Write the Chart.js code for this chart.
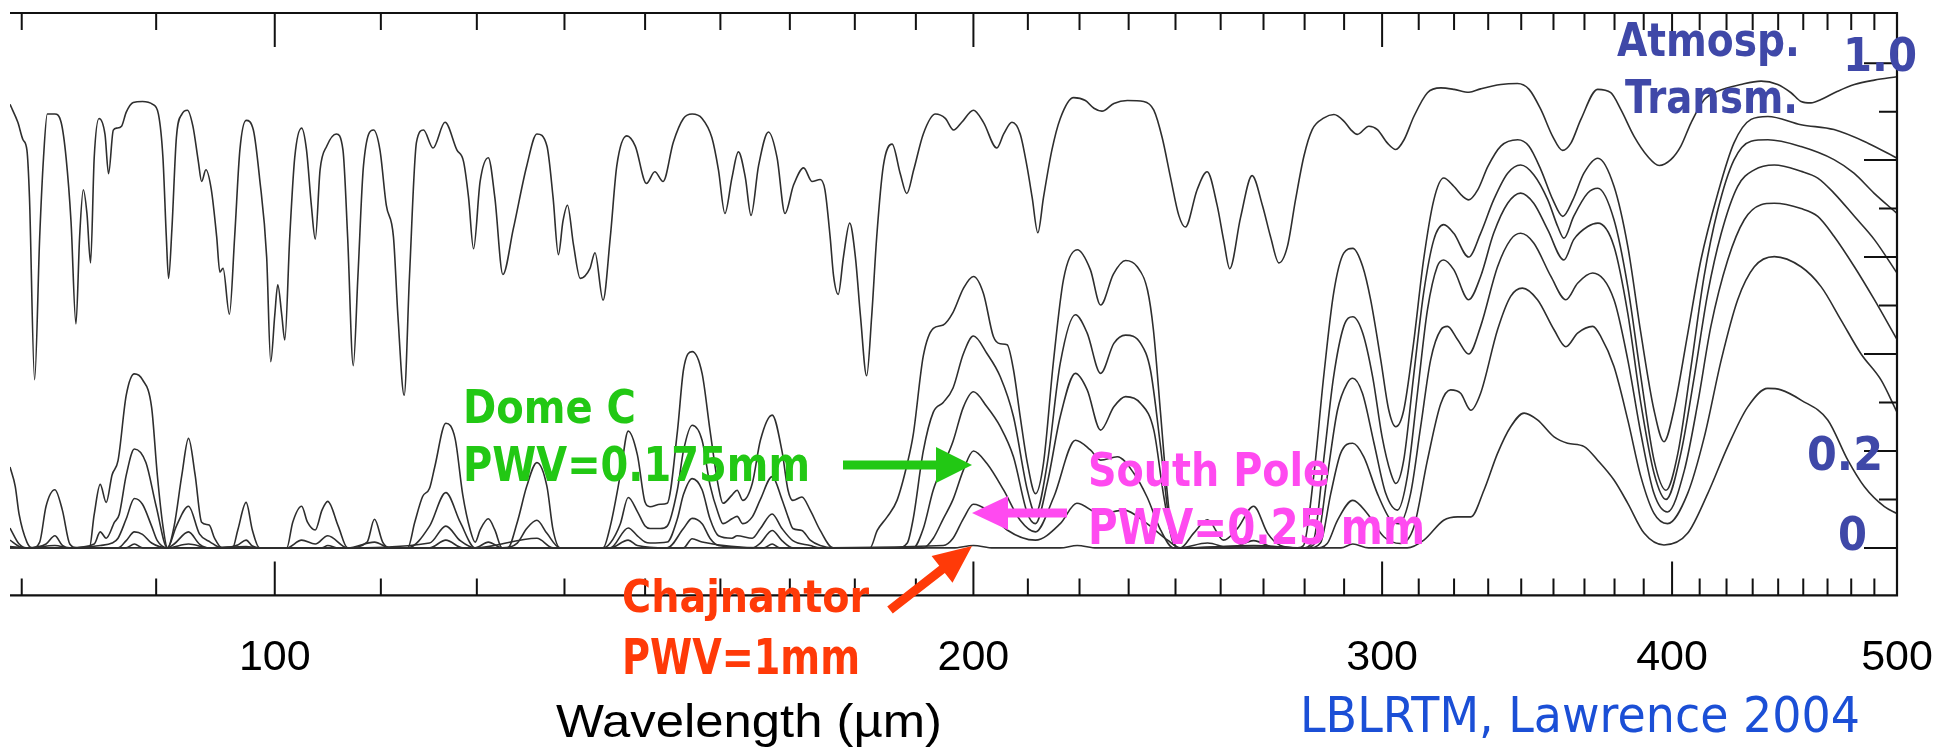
<!DOCTYPE html>
<html><head><meta charset="utf-8">
<script src="https://cdn.jsdelivr.net/npm/chart.js@4.4.1/dist/chart.umd.min.js"></script>
<style>html,body{margin:0;padding:0;background:#fff;overflow:hidden}</style>
</head><body>
<canvas id="c" width="1937" height="755"></canvas>
<script>
// ---------- DATA (wavelength in micron, transmission 0..1) ----------
const wlA = [76.9,77.5,77.9,78.2,78.4,78.8,79.2,79.5,79.8,80.4,80.9,81.3,81.7,82.1,82.4,82.7,83.0,83.3,83.6,84.0,84.5,84.8,85.2,85.5,85.9,86.3,86.9,87.7,88.6,89.1,89.5,89.8,90.0,90.3,90.7,91.2,91.7,92.2,92.7,93.0,93.4,93.9,94.4,94.7,95.0,95.6,96.1,96.6,97.2,97.9,98.5,99.2,99.6,100.0,100.3,100.7,101.0,101.5,102.0,102.7,103.2,103.7,104.1,104.6,105.3,106.3,107.0,107.5,108.1,108.6,109.2,110.3,111.0,111.7,112.5,113.0,113.7,114.3,115.1,115.9,117.0,118.4,119.8,120.6,121.2,121.8,122.6,123.6,124.4,125.4,126.7,128.4,129.7,131.0,131.8,132.5,133.1,133.7,134.5,135.4,136.7,137.4,138.5,139.5,140.4,141.8,143.0,144.6,145.8,147.0,148.5,150.0,151.3,152.8,154.3,155.3,156.3,157.4,158.4,159.5,160.4,161.6,163.2,164.6,165.9,167.3,169.0,170.4,171.8,172.6,173.5,174.1,174.9,175.8,176.9,177.9,178.8,179.9,180.8,181.7,182.9,184.5,186.0,187.2,188.5,190.3,192.6,194.5,196.1,197.7,200.0,202.0,204.7,206.1,207.8,209.5,210.9,212.0,213.2,214.4,216.2,218.0,220.9,223.5,225.4,227.2,229.9,233.0,236.8,239.2,241.2,243.2,245.2,246.8,249.7,252.2,254.7,256.4,257.9,260.7,263.7,266.4,268.6,270.8,273.1,275.3,277.6,279.9,283.2,286.0,288.9,290.8,292.7,296.1,298.6,301.6,304.1,306.6,309.6,313.8,318.0,322.2,327.0,330.8,337.5,343.1,347.1,351.2,355.3,358.8,361.8,365.4,371.5,376.4,380.2,385.2,390.4,394.9,399.5,403.5,407.6,413.0,418.5,428.3,436.9,444.2,450.1,454.6,459.1,463.7,471.4,479.3,488.9,500];
const trA = [.915,.878,.842,.821,.723,.347,.642,.805,.895,.895,.878,.805,.673,.462,.642,.739,.69,.588,.805,.886,.853,.772,.862,.866,.87,.899,.919,.921,.915,.895,.805,.642,.556,.658,.846,.895,.903,.87,.797,.756,.78,.739,.642,.569,.577,.482,.642,.821,.882,.862,.764,.6,.384,.48,.543,.48,.429,.642,.805,.866,.821,.706,.637,.78,.829,.854,.821,.641,.376,.56,.788,.862,.821,.707,.641,.478,.315,.56,.837,.862,.825,.878,.821,.797,.723,.617,.756,.805,.723,.564,.658,.788,.854,.829,.723,.605,.674,.707,.625,.556,.576,.609,.511,.641,.788,.85,.829,.752,.776,.756,.837,.886,.895,.886,.846,.78,.69,.764,.817,.764,.686,.788,.858,.805,.69,.748,.784,.756,.76,.739,.641,.56,.523,.6,.67,.6,.478,.355,.478,.641,.788,.833,.772,.731,.78,.854,.895,.886,.862,.878,.903,.878,.825,.854,.878,.854,.788,.723,.65,.723,.821,.886,.929,.923,.907,.901,.917,.923,.921,.903,.846,.764,.686,.662,.739,.776,.707,.633,.576,.682,.768,.707,.641,.588,.622,.718,.808,.863,.887,.894,.88,.863,.853,.87,.863,.835,.822,.842,.89,.939,.949,.946,.94,.947,.956,.958,.946,.904,.849,.82,.835,.884,.946,.939,.904,.849,.808,.789,.801,.829,.877,.925,.942,.956,.963,.956,.939,.921,.918,.925,.942,.956,.965,.972];

const wlB = [76.9,77.3,77.6,78.2,78.6,79.2,79.7,80.4,81.0,81.6,82.2,83.2,83.6,84.1,84.6,85.1,85.6,86.3,87.0,87.7,88.5,89.0,89.5,89.9,90.5,91.2,91.8,92.4,93.0,93.7,94.2,94.9,95.9,96.4,97.2,97.8,98.5,101.2,101.8,102.7,103.3,104.1,104.8,105.4,106.5,107.5,109.6,110.4,111.3,112.1,114.1,114.9,115.8,116.6,117.2,118.5,119.6,120.5,121.4,122.0,122.6,123.6,124.4,125.3,126.0,127.2,128.4,129.7,131.0,131.8,132.7,138.5,139.5,140.9,142.0,143.3,144.4,145.1,146.6,147.6,149.1,150.0,151.3,152.8,154.0,155.3,156.0,157.4,158.2,159.1,160.6,161.9,163.8,165.4,166.4,167.2,168.7,170.1,171.8,174.0,180.5,181.8,183.6,185.4,187.3,188.4,190.3,192.2,194.1,196.0,198.0,200.0,202.0,204.0,205.4,206.8,208.1,209.5,211.0,212.7,214.4,216.5,218.7,221.7,224.6,226.9,229.8,232.6,235.3,237.7,239.1,240.8,242.5,243.9,245.6,248.8,252.3,256.3,259.9,264.1,267.8,271.2,275.9,277.5,280.3,283.1,285.9,288.8,291.4,294.3,296.6,299.6,302.0,304.1,306.5,309.5,312.6,315.8,318.9,322.1,325.0,326.9,329.9,333.2,337.5,343.2,347.0,351.2,355.4,358.9,362.5,366.5,371.6,377.6,382.8,387.8,392.9,396.8,400.7,406.3,411.6,418.6,425.3,432.6,439.9,454.6,469.7,485.8,500];
const trB = [.167,.127,.069,.012,0,.012,.086,.12,.078,.008,0,0,.069,.131,.094,.151,.18,.315,.359,.347,.29,.151,.045,0,.045,.151,.226,.151,.053,.047,.02,0,0,.037,.094,.037,0,0,.053,.086,.053,.037,.078,.096,.045,0,.012,.059,.012,0,0,.053,.106,.123,.167,.257,.225,.11,.037,.012,.037,.06,.037,0,0,.053,.127,.176,.127,.037,0,0,.045,.151,.241,.192,.094,.085,.09,.092,.24,.367,.405,.36,.243,.126,.092,.109,.119,.098,.133,.222,.274,.2,.119,.098,.105,.078,.036,0,0,.036,.064,.098,.174,.233,.396,.453,.46,.486,.535,.56,.525,.436,.421,.419,.368,.271,.175,.112,.175,.382,.554,.615,.574,.501,.565,.593,.58,.532,.45,.278,.105,.009,0,.03,.058,.016,.04,.086,.03,.005,0,.005,.147,.353,.525,.608,.618,.58,.512,.388,.284,.25,.284,.422,.594,.718,.763,.746,.725,.718,.739,.787,.829,.842,.829,.78,.718,.684,.718,.773,.804,.746,.622,.443,.284,.219,.284,.443,.594,.732,.835,.884,.89,.873,.863,.835,.804];

const wlC = [76.9,77.6,78.2,79.7,80.4,81.0,81.6,83.6,84.1,84.6,85.3,85.7,86.3,87.0,88.0,88.9,89.9,90.7,91.8,92.8,93.8,94.9,96.4,97.2,97.8,98.5,101.2,102.7,104.1,105.4,107.5,110.4,112.1,114.1,116.6,118.5,120.2,122.0,123.6,125.3,127.2,128.4,129.7,131.0,132.7,138.5,139.5,140.9,142.0,143.3,144.4,145.1,146.6,147.6,149.1,150.0,151.3,152.8,154.0,155.3,156.0,157.4,158.2,159.1,160.6,161.9,163.8,165.4,166.4,167.2,168.7,170.1,171.8,174.0,185.4,187.3,188.4,190.3,192.2,194.1,196.0,198.0,200.0,202.7,205.4,208.1,211.0,212.7,215.2,218.0,221.3,223.9,226.9,229.9,232.6,236.1,238.4,240.8,243.2,245.2,252.3,258.0,264.1,270.0,277.0,280.3,283.1,285.9,288.8,291.4,294.3,297.2,300.0,302.6,304.1,306.5,309.5,312.6,315.8,318.9,322.1,326.9,330.8,335.1,339.8,344.2,348.7,353.6,357.1,359.3,362.8,367.9,371.6,377.6,382.8,387.8,392.9,397.6,402.3,407.6,412.9,418.6,425.3,432.6,439.9,454.6,469.7,479.1,488.7,500];
const trC = [.041,.008,0,.008,.025,.005,0,.008,.033,.02,.053,.069,.15,.204,.176,.086,0,.045,.086,.029,.012,0,.006,.016,.004,0,0,.016,.008,.025,0,.012,0,0,.045,.114,.053,0,.012,0,.01,.04,.057,.03,0,0,.01,.05,.104,.075,.045,.04,.04,.045,.12,.2,.253,.222,.13,.07,.05,.06,.065,.05,.064,.1,.147,.1,.064,.04,.036,.016,.005,0,0,.01,.06,.2,.28,.3,.33,.4,.437,.401,.353,.271,.119,.071,.174,.381,.481,.443,.36,.422,.439,.422,.367,.209,.036,0,.01,0,.015,0,0,.016,.181,.353,.457,.477,.443,.353,.229,.154,.133,.181,.353,.525,.636,.667,.649,.6,.649,.718,.773,.79,.77,.718,.663,.639,.684,.732,.742,.677,.539,.353,.181,.119,.195,.374,.56,.698,.8,.839,.842,.828,.801,.773,.732,.69];

const wlD = [76.9,77.6,78.2,80.4,81.6,84.1,85.1,85.6,86.3,87.0,87.7,88.5,89.0,89.9,90.5,91.8,92.8,93.7,97.2,98.5,104.8,105.4,106.5,116.6,118.5,120.2,122.0,129.7,131.8,139.5,142.0,143.3,144.4,145.1,147.6,149.1,150.0,151.3,152.8,154.0,155.3,157.4,158.2,160.6,161.9,163.8,165.4,167.2,170.1,171.8,188.4,190.3,192.2,194.1,196.0,198.0,200.0,202.7,205.4,208.1,211.0,212.7,215.2,218.0,221.3,223.9,226.9,229.9,232.6,236.1,239.2,241.6,243.9,245.6,264.1,277.5,281.3,284.1,287.0,289.8,291.4,294.2,297.6,301.1,304.6,307.6,310.7,313.8,316.9,318.9,322.1,326.9,330.8,335.1,339.8,344.2,348.7,353.6,359.3,362.8,367.9,371.6,377.6,382.8,387.8,392.9,397.6,403.5,408.9,414.4,420.0,426.9,434.0,442.7,454.6,462.2,469.7,479.3,488.9,500];
const trD = [.016,.003,0,.005,0,.005,.01,.02,.06,.102,.09,.045,.015,0,.008,.033,.008,0,.003,0,0,.005,0,.01,.045,.015,0,.02,0,0,.041,.025,.012,.01,.012,.06,.11,.143,.12,.06,.025,.02,.025,.02,.04,.07,.04,.015,.005,0,0,.04,.12,.17,.22,.29,.322,.291,.25,.188,.071,.05,.133,.271,.36,.326,.243,.291,.312,.298,.243,.105,.009,0,.005,0,.016,.147,.284,.34,.35,.319,.216,.112,.078,.147,.319,.491,.581,.594,.574,.512,.56,.649,.711,.732,.711,.656,.594,.636,.663,.67,.622,.484,.298,.154,.1,.195,.353,.525,.649,.746,.78,.79,.777,.763,.732,.684,.636,.567];

const wlE = [76.9,78.2,85.6,86.3,87.0,87.7,88.5,89.9,91.8,93.7,116.6,118.5,120.5,139.5,142.0,143.3,147.6,150.0,151.3,152.8,154.0,155.3,160.6,161.9,163.8,165.4,167.2,190.3,192.2,194.1,196.0,198.0,200.0,202.7,206.1,209.5,212.7,216.6,221.3,224.6,226.9,230.7,234.5,237.6,240.8,243.9,264.1,279.0,282.2,285.1,287.9,291.4,294.6,298.6,302.6,305.1,308.6,311.7,314.8,318.0,320.1,323.3,326.9,330.8,336.4,340.8,344.2,348.7,354.7,360.0,364.2,369.7,377.6,382.8,387.8,392.9,398.2,404.9,410.3,415.7,422.7,429.7,436.9,442.7,454.6,462.2,469.7,479.3,488.9,500];
const trE = [.003,0,0,.015,.033,.028,.01,0,.008,0,0,.016,0,0,.016,.005,0,.04,.061,.05,.02,.005,0,.01,.036,.015,0,0,.02,.06,.1,.16,.2,.174,.119,.057,.033,.105,.222,.202,.181,.188,.154,.105,.037,0,.004,0,.01,.112,.195,.216,.188,.112,.057,.05,.112,.25,.388,.45,.457,.43,.4,.457,.58,.636,.649,.629,.56,.512,.546,.567,.512,.388,.236,.112,.074,.16,.298,.457,.594,.677,.708,.711,.7,.684,.643,.58,.512,.43];

const wlF = [76.9,86.3,87.0,87.7,150.0,151.3,152.8,162.5,163.8,165.0,194.1,196.0,198.0,200.0,202.7,206.8,212.7,218.0,221.6,226.9,232.2,237.6,242.5,245.6,281.0,284.1,287.0,291.4,295.6,300.5,305.5,309.6,313.8,318.0,321.1,324.3,327.6,330.8,336.4,340.8,344.8,350.0,355.8,360.0,364.2,369.7,372.7,377.6,382.8,387.8,392.9,398.2,406.2,413.0,420.0,426.9,434.0,442.7,454.6,463.7,473.0,482.5,492.2,500];
const trF = [0,0,.008,0,0,.019,.012,0,.008,0,.005,.02,.06,.09,.078,.037,.016,.05,.092,.07,.078,.05,.016,0,0,.009,.057,.098,.071,.023,.009,.043,.181,.298,.326,.319,.284,.319,.45,.519,.536,.512,.45,.415,.443,.457,.436,.374,.264,.147,.071,.05,.112,.229,.388,.512,.58,.601,.58,.539,.47,.4,.346,.28];

const wlG = [76.9,196.0,200.0,204.0,218.0,221.7,226.0,288.0,291.4,296.0,307.6,312.7,318.9,323.3,327.6,331.9,336.4,340.8,345.4,350.0,355.8,360.6,366.6,371.5,377.6,382.8,389.1,396.8,406.2,414.4,422.7,431.2,439.8,445.6,454.6,466.8,476.2,484.1,493.8,500];
const trG = [0,0,.005,0,0,.005,0,0,.008,0,0,.016,.057,.064,.064,.119,.195,.25,.278,.264,.229,.216,.209,.181,.14,.092,.03,.006,.03,.112,.209,.291,.329,.326,.305,.264,.181,.126,.085,.071];

const seriesNames = ['Atmosp. Transm. (top)','Curve 2','Curve 3','Curve 4 (Dome C)','Curve 5 (South Pole)','Curve 6','Chajnantor'];

// tick values
const xMajorTicks = [100,200,300,400,500];
const xMinorTicks = [77.8,88.9,111.1,122.2,133.3,144.4,155.6,166.7,177.8,188.9,211.1,222.2,233.3,244.4,255.6,266.7,277.8,288.9,311.1,322.2,333.3,344.4,355.6,366.7,377.8,388.9,411.1,422.2,433.3,444.4,455.6,466.7,477.8,488.9];
const yTickValues = [0,0.1,0.2,0.3,0.4,0.5,0.6,0.7,0.8,0.9,1.0];
const yMajorTicks = [0,0.2,0.4,0.6,0.8,1.0];

// ---------- CHART ----------
const allX = xMinorTicks.concat(xMajorTicks).sort((a,b)=>a-b);
const pairs = [[wlA,trA],[wlB,trB],[wlC,trC],[wlD,trD],[wlE,trE],[wlF,trF],[wlG,trG]];
const datasets = pairs.map(([w,t],i)=>({
  label: seriesNames[i],
  data: w.map((x,j)=>({x:x, y:t[j]})),
  borderColor:'#2e2e2e', borderWidth:1.6, pointRadius:0, fill:false,
  cubicInterpolationMode:'monotone'
}));

function fitText(ctx, txt, left, baseline, width, size, weight, family, color){
  ctx.save();
  ctx.font = weight + ' ' + size + 'px ' + family;
  const w = ctx.measureText(txt).width;
  ctx.translate(left, baseline);
  ctx.scale(width / w, 1);
  ctx.fillStyle = color; ctx.textBaseline = 'alphabetic'; ctx.textAlign = 'left';
  ctx.fillText(txt, 0, 0);
  ctx.restore();
}
function arrow(ctx, x1, y1, x2, y2, shaft, headLen, headHalf, color){
  const dx = x2-x1, dy = y2-y1, L = Math.hypot(dx,dy);
  const ux = dx/L, uy = dy/L, px = -uy, py = ux;
  const bx = x2 - ux*headLen, by = y2 - uy*headLen;
  ctx.save(); ctx.fillStyle = color; ctx.beginPath();
  ctx.moveTo(x1 + px*shaft/2, y1 + py*shaft/2);
  ctx.lineTo(bx + px*shaft/2, by + py*shaft/2);
  ctx.lineTo(bx + px*headHalf, by + py*headHalf);
  ctx.lineTo(x2, y2);
  ctx.lineTo(bx - px*headHalf, by - py*headHalf);
  ctx.lineTo(bx - px*shaft/2, by - py*shaft/2);
  ctx.lineTo(x1 - px*shaft/2, y1 - py*shaft/2);
  ctx.closePath(); ctx.fill(); ctx.restore();
}

const COMIC = '"DejaVu Sans", "Noto Sans", sans-serif';
const framePlugin = {
  id:'frame',
  afterDraw(chart){
    const ctx = chart.ctx, a = chart.chartArea;
    const xs = chart.scales.x, ys = chart.scales.y;
    ctx.save();
    ctx.strokeStyle = '#111'; ctx.lineWidth = 2.2; ctx.lineCap = 'butt';
    ctx.beginPath();
    ctx.moveTo(a.left, a.top); ctx.lineTo(a.right, a.top); ctx.lineTo(a.right, a.bottom); ctx.lineTo(a.left, a.bottom);
    ctx.stroke();
    ctx.lineWidth = 2;
    ctx.beginPath();
    allX.forEach(v=>{
      const x = xs.getPixelForValue(v);
      const len = xMajorTicks.includes(v) ? 34 : 17;
      ctx.moveTo(x, a.top); ctx.lineTo(x, a.top + len);
      ctx.moveTo(x, a.bottom); ctx.lineTo(x, a.bottom - len);
    });
    yTickValues.forEach(v=>{
      const y = ys.getPixelForValue(v);
      const len = yMajorTicks.some(m=>Math.abs(m-v)<1e-9) ? 33 : 18;
      ctx.moveTo(a.right, y); ctx.lineTo(a.right - len, y);
    });
    ctx.stroke();
    ctx.restore();

    const BLUE = '#3f48a8', GREEN = '#22c814', MAG = '#ff4af0', RED = '#ff3a08';
    fitText(ctx,'Atmosp.',1617,56,183,46,'bold',COMIC,BLUE);
    fitText(ctx,'Transm.',1625,113,173,47,'bold',COMIC,BLUE);
    fitText(ctx,'1.0',1843,71,74,46,'bold',COMIC,BLUE);
    fitText(ctx,'0.2',1807,470,76,47,'bold',COMIC,BLUE);
    fitText(ctx,'0',1838,550,29,47,'bold',COMIC,BLUE);
    fitText(ctx,'Dome C',463,423,173,47,'bold',COMIC,GREEN);
    fitText(ctx,'PWV=0.175mm',463,481,347,48,'bold',COMIC,GREEN);
    fitText(ctx,'South Pole',1088,486,242,47,'bold',COMIC,MAG);
    fitText(ctx,'PWV=0.25 mm',1088,544,337,50,'bold',COMIC,MAG);
    fitText(ctx,'Chajnantor',622,612,247,45,'bold',COMIC,RED);
    fitText(ctx,'PWV=1mm',622,674,238,50,'bold',COMIC,RED);
    fitText(ctx,'LBLRTM, Lawrence 2004',1300,732,560,50,'normal',COMIC,'#1b4fd6');
    fitText(ctx,'Wavelength (\u00B5m)',556,737,386,46,'normal','"Liberation Sans", Arial, sans-serif','#000');

    arrow(ctx, 843, 465, 972, 465, 9, 36, 18, GREEN);
    arrow(ctx, 1067, 513, 972, 513, 9, 36, 17, MAG);
    arrow(ctx, 890, 610, 972, 546, 9, 38, 17, RED);
  }
};

new Chart(document.getElementById('c').getContext('2d'), {
  type:'line',
  data:{datasets},
  options:{
    responsive:false, animation:false, devicePixelRatio:1,
    layout:{padding:{left:10,right:40,top:13,bottom:71}},
    plugins:{legend:{display:false}, tooltip:{enabled:false}},
    scales:{
      x:{type:'logarithmic', min:76.9, max:500,
        grid:{display:true, drawOnChartArea:false, drawTicks:true, tickLength:37, color:'rgba(0,0,0,0)'},
        border:{display:false},
        afterBuildTicks:(s)=>{ s.ticks = allX.map(v=>({value:v})); },
        ticks:{autoSkip:false, maxRotation:0, minRotation:0, padding:0, color:'#000',
          font:{family:'"Liberation Sans", Arial, sans-serif', size:43},
          callback:(v)=> xMajorTicks.includes(v) ? String(v) : ''}
      },
      y:{type:'linear', min:-0.098, max:1.1035, display:false}
    }
  },
  plugins:[framePlugin]
});
</script>
</body></html>
